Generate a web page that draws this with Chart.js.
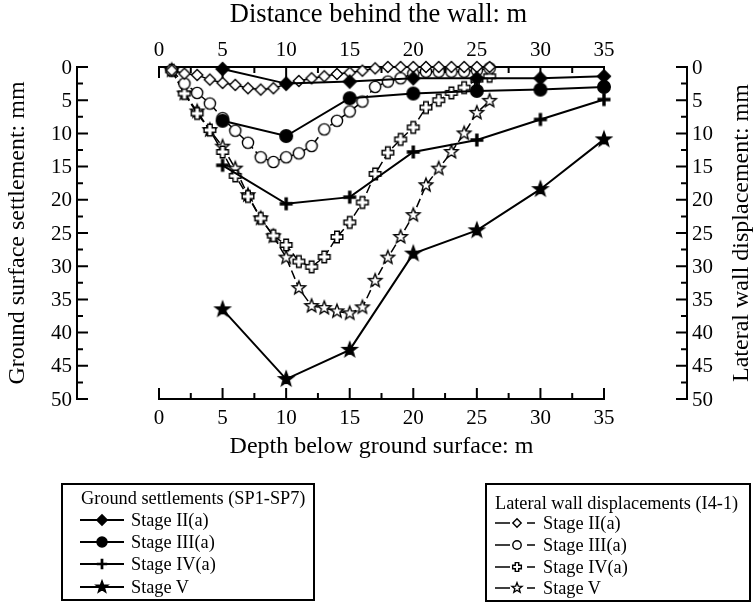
<!DOCTYPE html>
<html>
<head>
<meta charset="utf-8">
<script src="https://cdn.jsdelivr.net/npm/chart.js@4.4.0/dist/chart.umd.min.js"></script>
<style>
  html, body { margin: 0; padding: 0; background: #fff; }
  #wrap { position: relative; width: 753px; height: 604px; overflow: hidden; }
  #c { position: absolute; left: 0; top: 0; }
  .lt { position: absolute; font-family: "Liberation Serif", serif; font-size: 18.3px;
        line-height: 22px; height: 22px; white-space: nowrap; color: #000; }
</style>
</head>
<body>
<div id="wrap">
  <canvas id="c" width="753" height="604"></canvas>
  <div class="lt" style="left:81px;top:487px">Ground settlements (SP1-SP7)</div>
  <div class="lt" style="left:131px;top:509px">Stage II(a)</div>
  <div class="lt" style="left:131px;top:531px">Stage III(a)</div>
  <div class="lt" style="left:131px;top:553px">Stage IV(a)</div>
  <div class="lt" style="left:131px;top:576px">Stage V</div>
  <div class="lt" style="left:495px;top:492px">Lateral wall displacements (I4-1)</div>
  <div class="lt" style="left:543px;top:512px">Stage II(a)</div>
  <div class="lt" style="left:543px;top:534px">Stage III(a)</div>
  <div class="lt" style="left:543px;top:556px">Stage IV(a)</div>
  <div class="lt" style="left:543px;top:577px">Stage V</div>
</div>
<script>
// ground settlement: distance behind the wall (m) vs settlement (mm)
const distance = [5, 10, 15, 20, 25, 30, 35]
const groundII = [0.3, 2.5, 2.2, 1.7, 1.7, 1.7, 1.4]
const groundIII = [8.1, 10.4, 4.7, 4.0, 3.6, 3.4, 3.0]
const groundIV = [14.8, 20.6, 19.6, 12.8, 11.0, 7.9, 4.9]
const groundV = [36.5, 47.0, 42.6, 28.1, 24.6, 18.4, 10.9]

// lateral wall displacement: depth (m) vs displacement (mm)
const depth = [1, 2, 3, 4, 5, 6, 7, 8, 9, 10, 11, 12, 13, 14, 15, 16, 17, 18, 19, 20, 21, 22, 23, 24, 25, 26]
const wallII = [0.5, 1.0, 1.2, 1.9, 2.4, 2.7, 3.2, 3.4, 3.2, 2.6, 2.1, 1.7, 1.4, 1.05, 0.85, 0.55, 0.2, 0, 0, 0, 0, 0, 0, 0, 0, 0]
const wallIII = [0.5, 2.5, 3.9, 5.5, 7.7, 9.6, 11.4, 13.6, 14.3, 13.6, 13.0, 11.9, 9.4, 8.1, 6.7, 5.2, 3.0, 2.2, 1.7, 1.0, 0.7, 0.7, 0.7, 0.7, 0.5, 0.2]
const wallIV = [0.5, 4.0, 7.0, 9.5, 12.8, 16.4, 19.5, 22.8, 25.4, 26.8, 29.3, 30.1, 28.6, 25.6, 23.4, 20.4, 16.1, 12.9, 10.9, 9.1, 6.1, 5.0, 3.9, 3.1, 1.9, 1.4]
const wallV = [0.5, 4.0, 6.7, 9.5, 12.0, 15.3, 19.3, 22.8, 25.5, 28.7, 33.3, 36.0, 36.3, 36.8, 37.1, 36.2, 32.2, 28.7, 25.6, 22.3, 17.8, 15.3, 12.8, 10.0, 6.9, 5.1]

const xTicks = [0, 5, 10, 15, 20, 25, 30, 35]
const yTicks = [0, 5, 10, 15, 20, 25, 30, 35, 40, 45, 50]
const stageNames = ['Stage II(a)', 'Stage III(a)', 'Stage IV(a)', 'Stage V']

const FONT = '"Liberation Serif", serif'

function starPath(g, c, R, r) {
    for (var i = 0; i < 10; i++) {
        var a = -Math.PI / 2 + i * Math.PI / 5
        var rad = i % 2 ? r : R
        var px = c + rad * Math.cos(a), py = c + rad * Math.sin(a)
        if (i === 0) g.moveTo(px, py); else g.lineTo(px, py)
    }
    g.closePath()
}

function plusPath(g, c, r, w) {
    var pts = [[-w, -r], [w, -r], [w, -w], [r, -w], [r, w], [w, w], [w, r], [-w, r], [-w, w], [-r, w], [-r, -w], [-w, -w]]
    pts.forEach(function (p, i) {
        if (i === 0) g.moveTo(c + p[0], c + p[1]); else g.lineTo(c + p[0], c + p[1])
    })
    g.closePath()
}

function marker(shape, filled, s) {
    var cv = document.createElement('canvas')
    cv.width = 24; cv.height = 24
    var g = cv.getContext('2d'), c = 12
    g.strokeStyle = '#000'
    g.lineWidth = 1.4
    g.fillStyle = filled ? '#000' : '#fff'
    g.beginPath()
    if (shape === 'diamond') {
        var r = (filled ? 6.5 : 5.6) * s
        g.moveTo(c, c - r); g.lineTo(c + r, c); g.lineTo(c, c + r); g.lineTo(c - r, c); g.closePath()
    } else if (shape === 'circle') {
        g.arc(c, c, (filled ? 6.3 : 5.6) * s, 0, Math.PI * 2)
    } else if (shape === 'plus') {
        if (filled) plusPath(g, c, 6.5 * s, 1.7 * s)
        else plusPath(g, c, 5.8 * s, 2.3 * s)
    } else {
        if (filled) starPath(g, c, 7.8 * s, 3.2 * s)
        else starPath(g, c, 7.0 * s, 3.0 * s)
    }
    g.fill()
    if (!(filled && shape === 'plus')) g.stroke()
    return cv
}

const shapes = ['diamond', 'circle', 'plus', 'star']
const groundMarks = shapes.map(function (sh) { return marker(sh, true, 1) })
const wallMarks = shapes.map(function (sh) { return marker(sh, false, 1) })
const groundLegendMarks = shapes.map(function (sh) { return marker(sh, true, 0.8) })
const wallLegendMarks = shapes.map(function (sh) { return marker(sh, false, 0.75) })

function pts(xs, ys) {
    return xs.map(function (x, i) { return { x: x, y: ys[i] } })
}

const groundSeries = [groundII, groundIII, groundIV, groundV]
const wallSeries = [wallII, wallIII, wallIV, wallV]

const datasets = []
groundSeries.forEach(function (ys, i) {
    datasets.push({
        label: 'Ground ' + stageNames[i],
        data: pts(distance, ys),
        xAxisID: 'x2', yAxisID: 'y',
        borderColor: '#000', borderWidth: 2,
        pointStyle: groundMarks[i], pointRadius: 6,
        clip: false, tension: 0
    })
})
wallSeries.forEach(function (ys, i) {
    datasets.push({
        label: 'Wall ' + stageNames[i],
        data: pts(depth, ys),
        xAxisID: 'x', yAxisID: 'y2',
        borderColor: '#000', borderWidth: 1.5, borderDash: [9, 4],
        pointStyle: wallMarks[i], pointRadius: 6,
        clip: false, tension: 0
    })
})

// axes are drawn by hand (inward ticks, detached y axes), positions come from the scales
const handAxes = {
    id: 'handAxes',
    beforeDatasetsDraw(chart) {
        var ctx = chart.ctx
        var xb = chart.scales.x, xt = chart.scales.x2, yl = chart.scales.y, yr = chart.scales.y2
        var top = yl.getPixelForValue(0), bot = yl.getPixelForValue(50)
        var leftX = 77, rightX = 687
        ctx.save()
        ctx.strokeStyle = '#000'
        ctx.fillStyle = '#000'
        ctx.lineWidth = 2
        ctx.lineCap = 'butt'

        // top and bottom axes
        ctx.beginPath()
        ctx.moveTo(xt.getPixelForValue(0) - 1, top); ctx.lineTo(xt.getPixelForValue(35) + 1, top)
        ctx.moveTo(xb.getPixelForValue(0) - 1, bot); ctx.lineTo(xb.getPixelForValue(35) + 1, bot)
        for (var v = 0; v <= 35; v += 2.5) {
            var len = v % 5 === 0 ? 11 : 6
            var px = xt.getPixelForValue(v)
            ctx.moveTo(px, top); ctx.lineTo(px, top + len)
            px = xb.getPixelForValue(v)
            ctx.moveTo(px, bot); ctx.lineTo(px, bot - len)
        }
        // left and right axes
        ctx.moveTo(leftX, yl.getPixelForValue(0) - 1); ctx.lineTo(leftX, yl.getPixelForValue(50) + 1)
        ctx.moveTo(rightX, yr.getPixelForValue(0) - 1); ctx.lineTo(rightX, yr.getPixelForValue(50) + 1)
        for (var w = 0; w <= 50; w += 2.5) {
            var l2 = w % 5 === 0 ? 11 : 6
            var py = yl.getPixelForValue(w)
            ctx.moveTo(leftX, py); ctx.lineTo(leftX + l2, py)
            py = yr.getPixelForValue(w)
            ctx.moveTo(rightX, py); ctx.lineTo(rightX - l2, py)
        }
        ctx.stroke()

        ctx.font = '21px ' + FONT
        ctx.textAlign = 'center'
        ctx.textBaseline = 'middle'
        xTicks.forEach(function (t) {
            ctx.fillText(String(t), xt.getPixelForValue(t), 50)
            ctx.fillText(String(t), xb.getPixelForValue(t), 418)
        })
        yTicks.forEach(function (t) {
            ctx.textAlign = 'right'
            ctx.fillText(String(t), 72, yl.getPixelForValue(t) + 1)
            ctx.textAlign = 'left'
            ctx.fillText(String(t), 692, yr.getPixelForValue(t) + 1)
        })

        ctx.textAlign = 'center'
        var midX = (xb.getPixelForValue(0) + xb.getPixelForValue(35)) / 2
        ctx.font = '26.5px ' + FONT
        ctx.fillText('Distance behind the wall: m', midX - 3, 15)
        ctx.font = '24px ' + FONT
        ctx.fillText('Depth below ground surface: m', midX, 447)
        var midY = (top + bot) / 2
        ctx.save()
        ctx.translate(18, midY); ctx.rotate(-Math.PI / 2)
        ctx.fillText('Ground surface settlement: mm', 0, 0)
        ctx.restore()
        ctx.save()
        ctx.translate(742, midY); ctx.rotate(-Math.PI / 2)
        ctx.fillText('Lateral wall displacement: mm', 0, 0)
        ctx.restore()
        ctx.restore()
    },
    afterDraw(chart) {
        var ctx = chart.ctx
        ctx.save()
        ctx.strokeStyle = '#000'
        ctx.lineWidth = 2
        ctx.strokeRect(62, 484, 252, 116)
        ctx.strokeRect(486, 484, 264, 117)
        var rowsL = [520, 542, 564, 587]
        var rowsR = [523, 545, 567, 588]
        rowsL.forEach(function (cy, i) {
            ctx.lineWidth = 2
            ctx.beginPath(); ctx.moveTo(80, cy); ctx.lineTo(124, cy); ctx.stroke()
            ctx.drawImage(groundLegendMarks[i], 102 - 12, cy - 12)
        })
        rowsR.forEach(function (cy, i) {
            ctx.lineWidth = 1.5
            ctx.beginPath()
            ctx.moveTo(495, cy); ctx.lineTo(510, cy)
            ctx.moveTo(527, cy); ctx.lineTo(535, cy)
            ctx.stroke()
            ctx.drawImage(wallLegendMarks[i], 517 - 12, cy - 12)
        })
        ctx.restore()
    }
}

function draw() {
    new Chart(document.getElementById('c'), {
        type: 'line',
        data: { datasets: datasets },
        options: {
            responsive: false,
            animation: false,
            events: [],
            layout: { padding: { left: 159, right: 149, top: 67, bottom: 205 } },
            plugins: { legend: { display: false }, tooltip: { enabled: false } },
            scales: {
                x: { type: 'linear', position: 'bottom', min: 0, max: 35, display: false },
                x2: { type: 'linear', position: 'top', min: 0, max: 35, display: false },
                y: { type: 'linear', position: 'left', min: 0, max: 50, reverse: true, display: false },
                y2: { type: 'linear', position: 'right', min: 0, max: 50, reverse: true, display: false }
            }
        },
        plugins: [handAxes]
    })
}

if (document.fonts && document.fonts.load) {
    Promise.all([
        document.fonts.load('21px "Liberation Serif"'),
        document.fonts.load('24px "Liberation Serif"')
    ]).then(draw, draw)
} else {
    draw()
}
</script>
</body>
</html>
